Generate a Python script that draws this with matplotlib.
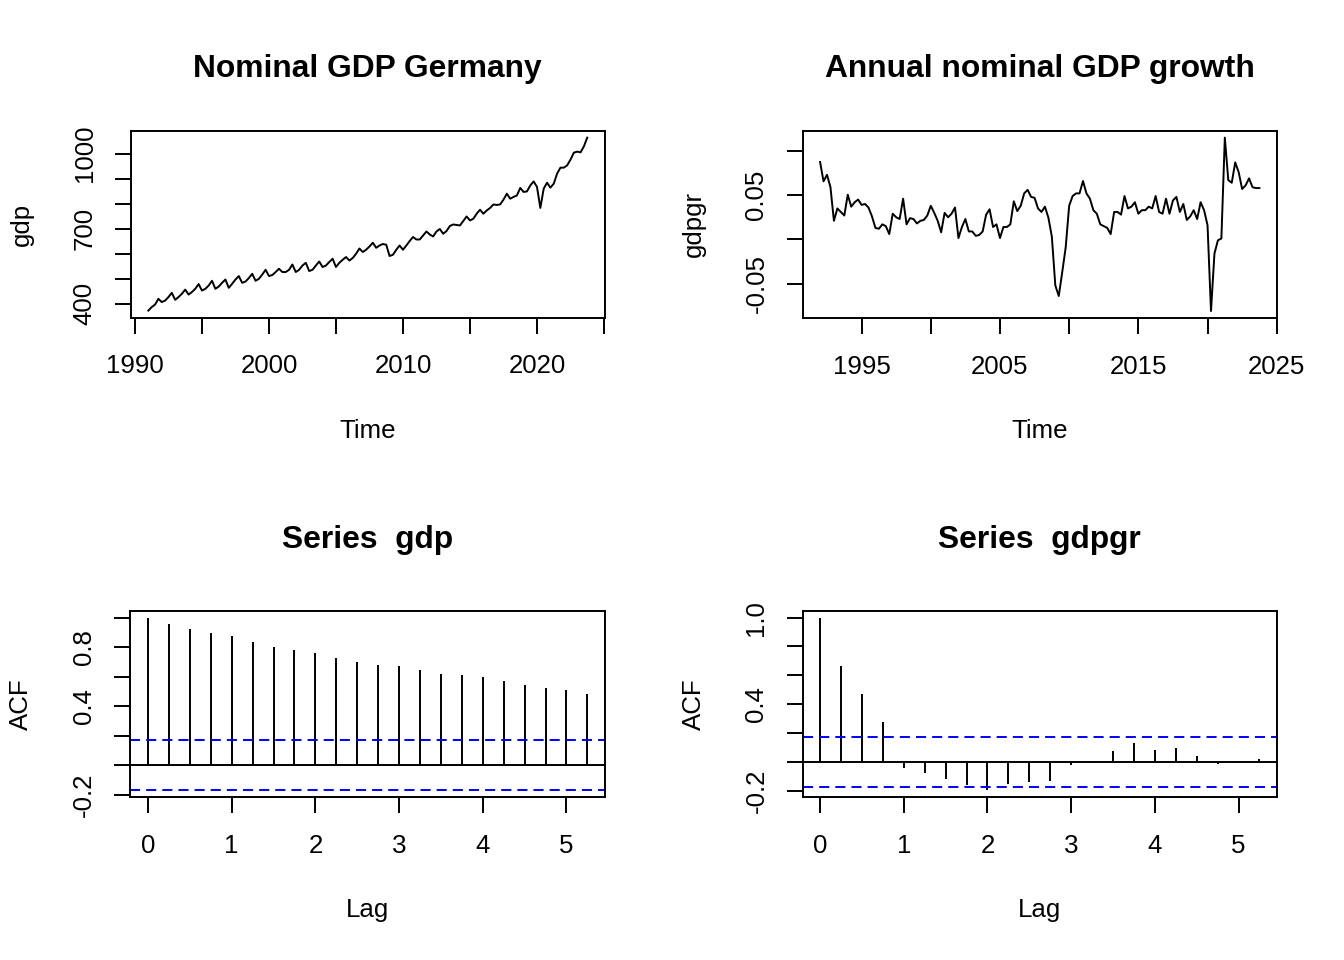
import numpy as np
import matplotlib.pyplot as plt

plt.rcParams['font.family'] = ['Liberation Sans', 'DejaVu Sans']

# quarterly nominal GDP, 1991Q1 - 2023Q4 (bn EUR)
gdp_start = 1991
gdp = [373, 387, 397, 420, 407, 413, 427, 444, 416, 427, 440, 457,
       437, 447, 460, 479, 453, 460, 473, 492, 460, 469, 484, 497,
       464, 480, 497, 511, 484, 489, 503, 520, 492, 500, 517, 536,
       511, 515, 527, 540, 527, 527, 536, 557, 527, 536, 553, 564,
       531, 536, 553, 569, 547, 553, 567, 580, 547, 564, 576, 587,
       573, 583, 600, 621, 607, 616, 629, 644, 624, 633, 639, 636,
       591, 596, 616, 633, 616, 633, 651, 667, 657, 657, 673, 689,
       677, 669, 689, 699, 680, 691, 711, 717, 715, 713, 731, 749,
       733, 740, 760, 776, 760, 773, 783, 797, 795, 797, 816, 840,
       820, 827, 833, 863, 847, 849, 873, 889, 867, 783, 860, 884,
       864, 880, 920, 944, 944, 953, 976, 1004, 1008, 1005, 1029, 1064]

# annual growth, 1992Q1 - 2023Q4
gdpgr_start = 1992
gdpgr = [0.0875, 0.0656, 0.073, 0.059, 0.021, 0.035, 0.031, 0.027,
         0.0505, 0.037, 0.042, 0.045, 0.039, 0.040, 0.036, 0.026,
         0.013, 0.012, 0.017, 0.015, 0.006, 0.029, 0.025, 0.023,
         0.046, 0.017, 0.024, 0.023, 0.018, 0.021, 0.022, 0.027,
         0.038, 0.030, 0.021, 0.008, 0.030, 0.025, 0.029, 0.036,
         0.0015, 0.014, 0.023, 0.009, 0.009, 0.004, 0.005, 0.009,
         0.028, 0.034, 0.014, 0.017, 0.0015, 0.014, 0.014, 0.017,
         0.043, 0.032, 0.038, 0.052, 0.056, 0.048, 0.047, 0.035,
         0.031, 0.037, 0.0245, 0.003, -0.052, -0.064, -0.037, -0.009,
         0.038, 0.049, 0.052, 0.052, 0.066, 0.052, 0.046, 0.033,
         0.029, 0.017, 0.015, 0.013, 0.006, 0.031, 0.031, 0.028,
         0.049, 0.035, 0.037, 0.042, 0.029, 0.033, 0.033, 0.037,
         0.035, 0.049, 0.031, 0.029, 0.046, 0.029, 0.044, 0.048,
         0.031, 0.040, 0.022, 0.026, 0.033, 0.023, 0.042, 0.033,
         0.016, -0.081, -0.016, -0.001, 0.001, 0.115, 0.067, 0.064,
         0.087, 0.076, 0.057, 0.061, 0.069, 0.059, 0.058, 0.058]

acf_gdp = [1.0, 0.959, 0.926, 0.899, 0.872, 0.836, 0.804, 0.779, 0.759, 0.727, 0.698,
           0.682, 0.669, 0.642, 0.619, 0.613, 0.597, 0.568, 0.543, 0.525, 0.509, 0.482]
acf_gdpgr = [1.0, 0.667, 0.471, 0.276, -0.046, -0.078, -0.122, -0.163, -0.197, -0.156, -0.138,
             -0.133, -0.023, -0.009, 0.074, 0.131, 0.080, 0.097, 0.039, -0.016, -0.009, 0.021]
ci_gdp = 0.171
ci_gdpgr = 0.173

gdp_yticks = [400, 500, 600, 700, 800, 900, 1000]
gdp_ylabels = ['400', '', '', '700', '', '', '1000']
gdpgr_yticks = [-0.05, 0.0, 0.05, 0.10]
gdpgr_ylabels = ['-0.05', '', '0.05', '']
acf_yticks = [-0.2, 0.0, 0.2, 0.4, 0.6, 0.8, 1.0]
acf_gdp_ylabels = ['-0.2', '', '', '0.4', '', '0.8', '']
acf_gdpgr_ylabels = ['-0.2', '', '', '0.4', '', '', '1.0']

W, H = 1344, 960
fig = plt.figure(figsize=(W / 100, H / 100), dpi=100)


def px_axes(l, t, r, b):
    return fig.add_axes([l / W, 1 - b / H, (r - l) / W, (b - t) / H])


def r_lim(lo, hi):
    d = (hi - lo) * 0.04
    return lo - d, hi + d


FS = 18.6


def style(ax, title, xlabel, ylabel, title_base, h):
    for s in ax.spines.values():
        s.set_linewidth(1.4)
    ax.tick_params(direction='out', length=11.5, width=1.4, labelsize=FS)
    ax.tick_params(axis='x', pad=15)
    ax.tick_params(axis='y', pad=13)
    for lab in ax.get_yticklabels():
        lab.set_rotation(90)
        lab.set_va('center')
    ax.text(0.5, 1 + title_base / h, title, transform=ax.transAxes,
            ha='center', va='baseline', fontsize=22.9, fontweight='bold')
    ax.set_xlabel(xlabel, fontsize=FS)
    ax.xaxis.set_label_coords(0.5, -113 / h)
    ax.xaxis.label.set_va('center')
    ax.set_ylabel(ylabel, fontsize=FS)
    ax.yaxis.set_label_coords(-109 / 474.5, 0.5)
    ax.yaxis.label.set_va('center')
    ax.yaxis.label.set_ha('center')


# top left: GDP level
ax1 = px_axes(130.8, 130.7, 604.8, 317.5)
t1 = gdp_start + np.arange(len(gdp)) / 4
ax1.plot(t1, gdp, color='black', lw=1.4)
ax1.set_xlim(r_lim(t1[0], t1[-1]))
ax1.set_ylim(r_lim(min(gdp), max(gdp)))
ax1.set_xticks([1990, 1995, 2000, 2005, 2010, 2015, 2020, 2025])
ax1.set_xticklabels(['1990', '', '2000', '', '2010', '', '2020', ''])
ax1.set_yticks(gdp_yticks)
ax1.set_yticklabels(gdp_ylabels)
style(ax1, 'Nominal GDP Germany', 'Time', 'gdp', 53.4, 186.8)

# top right: growth
ax2 = px_axes(802.5, 130.7, 1277, 318)
t2 = gdpgr_start + np.arange(len(gdpgr)) / 4
ax2.plot(t2, gdpgr, color='black', lw=1.4)
ax2.set_xlim(r_lim(t2[0], t2[-1]))
ax2.set_ylim(r_lim(min(gdpgr), max(gdpgr)))
ax2.set_xticks([1995, 2000, 2005, 2010, 2015, 2020, 2025])
ax2.set_xticklabels(['1995', '', '2005', '', '2015', '', '2025'])
ax2.set_yticks(gdpgr_yticks)
ax2.set_yticklabels(gdpgr_ylabels)
style(ax2, 'Annual nominal GDP growth', 'Time', 'gdpgr', 53.4, 187.3)


def acf_panel(ax, acf, ci, ylabels, title):
    lags = np.arange(len(acf)) / 4
    ax.vlines(lags, 0, acf, color='black', lw=1.4)
    ax.axhline(0, color='black', lw=1.4)
    for c in (ci, -ci):
        ax.axhline(c, color='blue', lw=1.4, linestyle=(0, (5.2, 3.1)))
    ax.set_xlim(r_lim(lags[0], lags[-1]))
    ax.set_ylim(r_lim(min(min(acf), -ci), max(max(acf), ci)))
    ax.set_xticks([0, 1, 2, 3, 4, 5])
    ax.set_yticks(acf_yticks)
    ax.set_yticklabels(ylabels)
    style(ax, title, 'Lag', 'ACF', 62.4, 186.3)


ax3 = px_axes(130.4, 610.7, 605, 797.3)
acf_panel(ax3, acf_gdp, ci_gdp, acf_gdp_ylabels, 'Series  gdp')

ax4 = px_axes(802.5, 610.7, 1277, 797)
acf_panel(ax4, acf_gdpgr, ci_gdpgr, acf_gdpgr_ylabels, 'Series  gdpgr')

fig.savefig('out.png', dpi=100)
